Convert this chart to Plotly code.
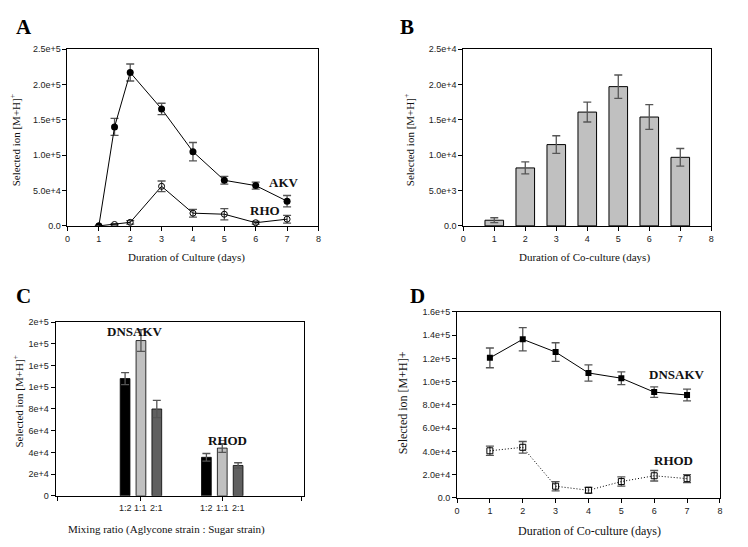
import plotly.graph_objects as go

# ---------------- data ----------------
# Panel A
a_days = [1, 1.5, 2, 3, 4, 5, 6, 7]
a_akv = [0, 140000, 217000, 165500, 105000, 64500, 57000, 35000]
a_akv_err = [0, 12000, 12000, 8000, 13000, 5500, 5000, 8000]
a_rho = [0, 2000, 5000, 56000, 18000, 16500, 4500, 9500]
a_rho_err = [0, 1000, 2500, 7500, 5500, 8000, 2000, 5500]
a_xticks = [0, 1, 2, 3, 4, 5, 6, 7, 8]
a_yticks = [0, 50000, 100000, 150000, 200000, 250000]
a_yticktext = ["0.0", "5.0e+4", "1.0e+5", "1.5e+5", "2.0e+5", "2.5e+5"]

# Panel B
b_days = [1, 2, 3, 4, 5, 6, 7]
b_vals = [800, 8200, 11500, 16100, 19700, 15400, 9700]
b_err = [350, 850, 1250, 1400, 1650, 1750, 1250]
b_xticks = [0, 1, 2, 3, 4, 5, 6, 7, 8]
b_yticks = [0, 5000, 10000, 15000, 20000, 25000]
b_yticktext = ["0.0", "5.0e+3", "1.0e+4", "1.5e+4", "2.0e+4", "2.5e+4"]

# Panel C
c_groups = ["DNSAKV", "RHOD"]
c_group_pos = [1, 2]
c_ratios = ["1:2", "1:1", "2:1"]
c_values = {
    "1:2": [108000, 35500],
    "1:1": [143000, 44000],
    "2:1": [80000, 28000],
}
c_errors = {
    "1:2": [5500, 3500],
    "1:1": [10000, 4000],
    "2:1": [8000, 2500],
}
c_colors = {"1:2": "#000000", "1:1": "#c0c0c0", "2:1": "#606060"}
c_yticks = [0, 20000, 40000, 60000, 80000, 100000, 120000, 140000, 160000]
c_yticktext = ["0", "2e+4", "4e+4", "6e+4", "8e+4", "1e+5", "1e+5", "1e+5", "2e+5"]

# Panel D
d_days = [1, 2, 3, 4, 5, 6, 7]
d_dnsakv = [120500, 136500, 125500, 107500, 103000, 91000, 88500]
d_dnsakv_err = [8500, 10000, 8000, 7000, 5500, 4500, 5000]
d_rhod = [40500, 43500, 10000, 6500, 14000, 19000, 16500]
d_rhod_err = [4000, 5000, 4000, 2500, 4000, 4500, 3500]
d_xticks = [0, 1, 2, 3, 4, 5, 6, 7, 8]
d_yticks = [0, 20000, 40000, 60000, 80000, 100000, 120000, 140000, 160000]
d_yticktext = ["0.0", "2.0e+4", "4.0e+4", "6.0e+4", "8.0e+4", "1.0e+5", "1.2e+5", "1.4e+5", "1.6e+5"]

# ---------------- styling ----------------
W, H = 748, 547
TICKFONT = dict(family="Liberation Sans, Arial", size=9, color="#222")
TITLEFONT = dict(family="Liberation Serif, Times New Roman", size=11, color="#111")
LABELFONT = dict(family="Liberation Serif, Times New Roman", size=13, color="#111")
LETTERFONT = dict(family="Liberation Serif, Times New Roman", size=21, color="#000")
ERRC = "#555555"


def px(x):
    return x / W


def py(y):
    return 1 - y / H


def err(arr, vis=True):
    return dict(type="data", array=arr, visible=vis, color=ERRC, thickness=1.3, width=4)


fig = go.Figure()

# Panel A
fig.add_trace(go.Scatter(x=a_days, y=a_akv, error_y=err(a_akv_err), mode="lines+markers",
                         line=dict(color="#000", width=1),
                         marker=dict(symbol="circle", size=7, color="#000"),
                         xaxis="x", yaxis="y", showlegend=False))
fig.add_trace(go.Scatter(x=a_days, y=a_rho, error_y=err(a_rho_err), mode="lines+markers",
                         line=dict(color="#000", width=1),
                         marker=dict(symbol="circle-open", size=6, color="#000", line=dict(width=1)),
                         xaxis="x", yaxis="y", showlegend=False))

# Panel B
fig.add_trace(go.Bar(x=b_days, y=b_vals, error_y=err(b_err), width=0.6,
                     marker=dict(color="#c0c0c0", line=dict(color="#000", width=1)),
                     xaxis="x2", yaxis="y2", showlegend=False))

# Panel C
for r in c_ratios:
    fig.add_trace(go.Bar(x=c_group_pos, y=c_values[r], error_y=err(c_errors[r]),
                         name=r, marker=dict(color=c_colors[r], line=dict(color="#000", width=0.8)),
                         xaxis="x3", yaxis="y3", showlegend=False))

# Panel D
fig.add_trace(go.Scatter(x=d_days, y=d_dnsakv, error_y=err(d_dnsakv_err), mode="lines+markers",
                         line=dict(color="#000", width=1),
                         marker=dict(symbol="square", size=6, color="#000"),
                         xaxis="x4", yaxis="y4", showlegend=False))
fig.add_trace(go.Scatter(x=d_days, y=d_rhod, error_y=err(d_rhod_err), mode="lines+markers",
                         line=dict(color="#000", width=1, dash="1px,2px"),
                         marker=dict(symbol="square-open", size=6, color="#000", line=dict(width=1)),
                         xaxis="x4", yaxis="y4", showlegend=False))

axbase = dict(showline=True, linecolor="#000", linewidth=1, mirror=True, ticks="outside",
              ticklen=4, tickcolor="#000", showgrid=False, zeroline=False, tickfont=TICKFONT)

# group geometry for panel C
spacing = 0.195
c_tick_pos = [g + (i - 1) * spacing for g in c_group_pos for i in range(len(c_ratios))]
c_tick_txt = [r for g in c_group_pos for r in c_ratios]

fig.update_layout(
    width=W, height=H, margin=dict(l=0, r=0, t=0, b=0),
    paper_bgcolor="white", plot_bgcolor="white",
    barmode="group", bargap=0.415, bargroupgap=0.385,
    xaxis=dict(axbase, domain=[px(65), px(318)], anchor="y", range=[0, 8], tickvals=a_xticks),
    yaxis=dict(axbase, domain=[py(225), py(45)], anchor="x", range=[0, 250000],
               tickvals=a_yticks, ticktext=a_yticktext),
    xaxis2=dict(axbase, domain=[px(464), px(714)], anchor="y2", range=[0, 8], tickvals=b_xticks),
    yaxis2=dict(axbase, domain=[py(225), py(45)], anchor="x2", range=[0, 25000],
                tickvals=b_yticks, ticktext=b_yticktext),
    xaxis3=dict(axbase, domain=[px(53), px(303)], anchor="y3", range=[-0.05, 3.0],
                tickvals=[-0.03] + c_group_pos + [2.98], showticklabels=False),
    yaxis3=dict(axbase, domain=[py(500), py(323)], anchor="x3", range=[0, 160000],
                tickvals=c_yticks, ticktext=c_yticktext),
    xaxis4=dict(axbase, domain=[px(457.7), px(722.7)], anchor="y4", range=[0, 8], tickvals=d_xticks),
    yaxis4=dict(axbase, domain=[py(502), py(312.7)], anchor="x4", range=[0, 160000],
                tickvals=d_yticks, ticktext=d_yticktext),
)

ann = []


def A(text, x, y, font, angle=0, xanchor="center"):
    ann.append(dict(text=text, x=px(x), y=py(y), xref="paper", yref="paper", showarrow=False,
                    font=font, textangle=angle, xanchor=xanchor, yanchor="middle"))


# panel letters
A("<b>A</b>", 21, 22, LETTERFONT)
A("<b>B</b>", 407, 22, LETTERFONT)
A("<b>C</b>", 21, 296, LETTERFONT)
A("<b>D</b>", 418, 296, LETTERFONT)

# axis titles
A("Selected ion [M+H]<sup>+</sup>", 13, 138, TITLEFONT, -90)
A("Duration of Culture (days)", 185, 257, TITLEFONT)
A("Selected ion [M+H]<sup>+</sup>", 410, 138, TITLEFONT, -90)
A("Duration of Co-culture (days)", 586, 257, TITLEFONT)
A("Selected ion [M+H]<sup>+</sup>", 15, 404, TITLEFONT, -90)
A("Mixing ratio (Aglycone strain : Sugar strain)", 64, 534, TITLEFONT, xanchor="left")
A("Selected ion [M+H]+", 403, 405, dict(TITLEFONT, size=12), -90)
A("Duration of Co-culture (days)", 591, 536, dict(TITLEFONT, size=12))

# series labels
A("<b>AKV</b>", 283, 181, LABELFONT)
A("<b>RHO</b>", 264, 209, LABELFONT)
A("<b>DNSAKV</b>", 133, 333, LABELFONT)
A("<b>RHOD</b>", 226, 444, LABELFONT)
A("<b>DNSAKV</b>", 679, 376, LABELFONT)
A("<b>RHOD</b>", 676, 464, LABELFONT)

# panel C ratio tick labels
for xv, t in zip(c_tick_pos, c_tick_txt):
    ann.append(dict(text=t, x=xv, y=0, xref="x3", yref="y3", showarrow=False, font=TICKFONT,
                    xanchor="center", yanchor="top", yshift=-5))

fig.update_layout(annotations=ann)
fig.write_html("out.html")
